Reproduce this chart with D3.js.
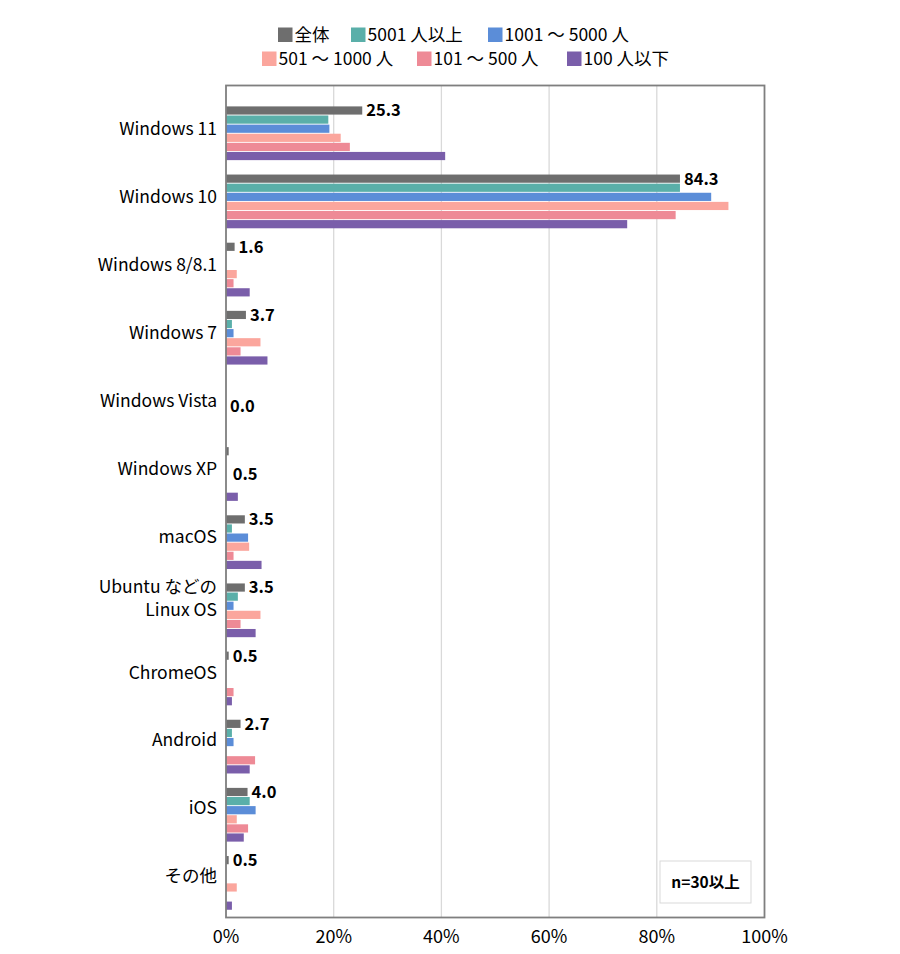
<!DOCTYPE html>
<html>
<head>
<meta charset="utf-8">
<script src="https://cdn.jsdelivr.net/npm/d3@7"></script>
<style>
  body { margin: 0; background: #fff; }
  svg text { font-family: "Noto Sans CJK JP", "Noto Sans", sans-serif; fill: #000; }
</style>
</head>
<body>
<script>
// ===== data =====
var categories = ["Windows 11", "Windows 10", "Windows 8/8.1", "Windows 7", "Windows Vista",
  "Windows XP", "macOS", "Ubuntu などの\nLinux OS", "ChromeOS", "Android", "iOS", "その他"];
var seriesNames = ["全体", "5001 人以上", "1001 ～ 5000 人", "501 ～ 1000 人", "101 ～ 500 人", "100 人以下"];
var seriesColors = ["#6e6e6e", "#5aafa9", "#5b8dd8", "#fba69d", "#ee8a96", "#7a5eaa"];

var totalAll = [25.3, 84.3, 1.6, 3.7, 0.0, 0.5, 3.5, 3.5, 0.5, 2.7, 4.0, 0.5];
var over5001 = [19.0, 84.3, 0, 1.1, 0, 0, 1.1, 2.2, 0, 1.1, 4.4, 0];
var from1001 = [19.2, 90.1, 0, 1.4, 0, 0, 4.1, 1.4, 0, 1.4, 5.5, 0];
var from501 = [21.3, 93.3, 2.0, 6.4, 0, 0, 4.3, 6.4, 0, 0, 2.0, 2.0];
var from101 = [23.0, 83.5, 1.4, 2.7, 0, 0, 1.4, 2.7, 1.4, 5.4, 4.1, 0];
var under100 = [40.7, 74.5, 4.4, 7.7, 0, 2.2, 6.6, 5.5, 1.1, 4.4, 3.3, 1.1];

var xTicks = [0, 20, 40, 60, 80, 100];
var noteText = "n=30以上";
// ====================================

var seriesValues = [totalAll, over5001, from1001, from501, from101, under100];
// value labels sit at the group middle for these two (as in the source)
var centeredLabels = ["Windows Vista", "Windows XP"];

var W = 900, H = 954;
var plot = {left: 226, right: 764.5, top: 85.5, bottom: 917.5};

var svg = d3.select("body").append("svg")
  .attr("width", W)
  .attr("height", H);

var x = d3.scaleLinear().domain([0, 100]).range([plot.left, plot.right]);

var y = d3.scaleBand()
  .domain(categories)
  .range([plot.top, plot.bottom])
  .paddingInner(0.2115)
  .paddingOuter(0.21)
  .align(0.73);

var ySub = d3.scaleBand()
  .domain(d3.range(seriesNames.length))
  .range([0, y.bandwidth()])
  .paddingInner(0.1);

// category labels run on a slightly tighter step than the bars
var yLabel = d3.scalePoint()
  .domain(categories)
  .range([129, 876]);

// gridlines
svg.append("g")
  .selectAll("line")
  .data(xTicks.filter(function(d) { return d > 0 && d < 100; }))
  .enter().append("line")
  .attr("x1", function(d) { return x(d); })
  .attr("x2", function(d) { return x(d); })
  .attr("y1", plot.top)
  .attr("y2", plot.bottom)
  .attr("stroke", "#d9d9d9")
  .attr("stroke-width", 1.3);

// bars
var groups = svg.append("g")
  .selectAll("g")
  .data(categories)
  .enter().append("g")
  .attr("transform", function(d) { return "translate(0," + y(d) + ")"; });

groups.selectAll("rect")
  .data(function(d, i) {
    return seriesValues.map(function(vals, s) { return {s: s, v: vals[i]}; });
  })
  .enter().append("rect")
  .attr("x", x(0))
  .attr("y", function(d) { return ySub(d.s); })
  .attr("height", ySub.bandwidth())
  .attr("width", function(d) { return x(d.v) - x(0); })
  .attr("fill", function(d) { return seriesColors[d.s]; });

// value labels for 全体
svg.append("g")
  .selectAll("text")
  .data(categories)
  .enter().append("text")
  .attr("x", function(d, i) { return x(totalAll[i]) + 4; })
  .attr("y", function(d) {
    if (centeredLabels.indexOf(d) >= 0)
      return y(d) + y.bandwidth() / 2;
    return y(d) + ySub(0) + ySub.bandwidth() / 2;
  })
  .attr("dy", "0.36em")
  .attr("font-size", 16.5)
  .attr("font-weight", "bold")
  .text(function(d, i) { return totalAll[i].toFixed(1); });

// category labels (one text per line so wrapped names stay apart)
var catLines = [];
categories.forEach(function(d) {
  var lines = d.split("\n");
  var shift = lines.length > 1 ? -6 : 0;
  lines.forEach(function(line, k) {
    catLines.push({text: line, y: yLabel(d) + shift + (k - (lines.length - 1) / 2) * 23.5});
  });
});

svg.append("g")
  .selectAll("text")
  .data(catLines)
  .enter().append("text")
  .attr("x", 217)
  .attr("y", function(d) { return d.y; })
  .attr("dy", "0.36em")
  .attr("text-anchor", "end")
  .attr("font-size", 17.5)
  .text(function(d) { return d.text; });

// x tick labels
svg.append("g")
  .selectAll("text")
  .data(xTicks)
  .enter().append("text")
  .attr("x", function(d) { return x(d); })
  .attr("y", 937)
  .attr("dy", "0.36em")
  .attr("text-anchor", "middle")
  .attr("font-size", 18)
  .text(function(d) { return d + "%"; });

// plot frame
svg.append("rect")
  .attr("x", plot.left)
  .attr("y", plot.top)
  .attr("width", plot.right - plot.left)
  .attr("height", plot.bottom - plot.top)
  .attr("fill", "none")
  .attr("stroke", "#7f7f7f")
  .attr("stroke-width", 1.8);

// note box
var note = svg.append("g");
note.append("rect")
  .attr("x", 660)
  .attr("y", 861)
  .attr("width", 91)
  .attr("height", 42)
  .attr("fill", "#fff")
  .attr("stroke", "#d9d9d9")
  .attr("stroke-width", 1);
note.append("text")
  .attr("x", 705.5)
  .attr("y", 882)
  .attr("dy", "0.36em")
  .attr("text-anchor", "middle")
  .attr("font-size", 15.5)
  .attr("font-weight", "bold")
  .text(noteText);

// legend, two rows
var legendRows = [[0, 1, 2], [3, 4, 5]];
var legendX = [[278, 351, 488], [262, 417, 567]];
var legendY = [34.5, 58.5];
legendRows.forEach(function(row, r) {
  row.forEach(function(s, c) {
    var g = svg.append("g")
      .attr("transform", "translate(" + legendX[r][c] + "," + legendY[r] + ")");
    g.append("rect")
      .attr("x", 0)
      .attr("y", -7)
      .attr("width", 14.5)
      .attr("height", 14.5)
      .attr("fill", seriesColors[s]);
    g.append("text")
      .attr("x", 16.5)
      .attr("y", 0)
      .attr("dy", "0.36em")
      .attr("font-size", 17.5)
      .text(seriesNames[s]);
  });
});
</script>
</body>
</html>
